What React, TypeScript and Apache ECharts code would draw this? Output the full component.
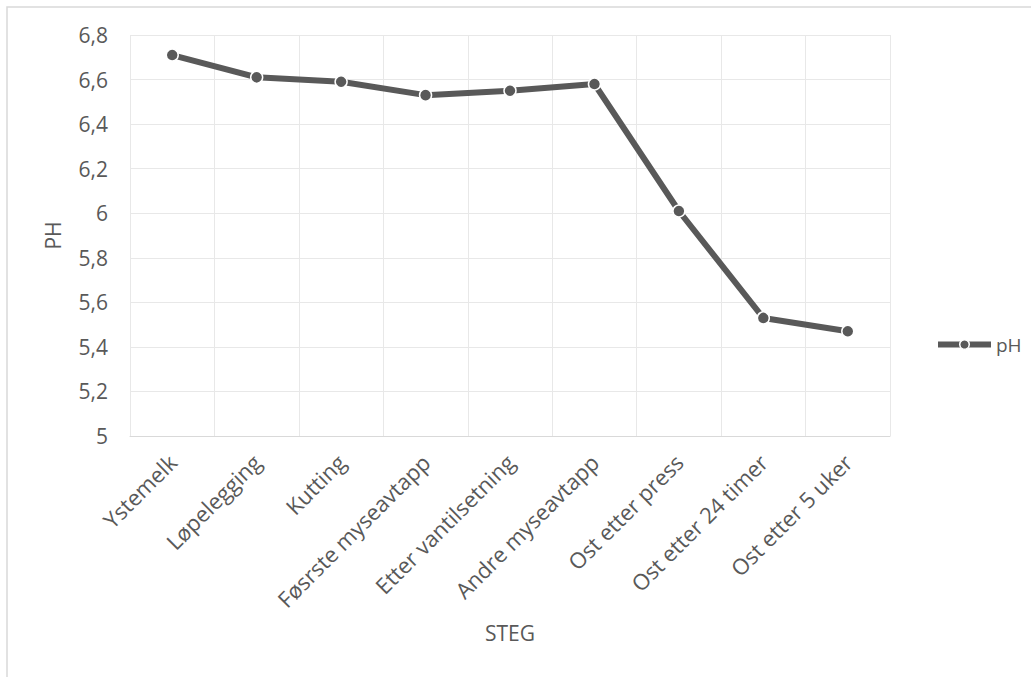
import React, { useEffect, useRef } from "react";
import * as echarts from "echarts";

// Cheese-making steps and the measured pH at each step
const steps = [
  "Ystemelk",
  "Løpelegging",
  "Kutting",
  "Føsrste myseavtapp",
  "Etter vantilsetning",
  "Andre myseavtapp",
  "Ost etter press",
  "Ost etter 24 timer",
  "Ost etter 5 uker",
];
const phValues = [6.71, 6.61, 6.59, 6.53, 6.55, 6.58, 6.01, 5.53, 5.47];

const yMin = 5;
const yMax = 6.8;
const yStep = 0.2;

const FONT = "'Open Sans', 'Noto Sans', sans-serif";
const TEXT = "#595959";
const SIZE = 21;

export default function App() {
  const ref = useRef<HTMLDivElement>(null);

  useEffect(() => {
    if (!ref.current) return;
    const chart = echarts.init(ref.current, null, { renderer: "svg" });
    chart.setOption({
      animation: false,
      backgroundColor: "#ffffff",
      textStyle: { fontFamily: FONT },
      graphic: [
        {
          type: "rect",
          shape: { x: 7, y: 7, width: 1100, height: 720 },
          style: { fill: "none", stroke: "#d9d9d9", lineWidth: 1.5 },
          silent: true,
        },
      ],
      grid: { left: 130, right: 141, top: 35, bottom: 241, containLabel: false },
      legend: {
        orient: "vertical",
        left: 930,
        top: 330,
        itemWidth: 53,
        itemHeight: 12,
        itemGap: 6,
        lineStyle: { width: 6, color: "#595959" },
        itemStyle: { color: "#595959", borderColor: "#ffffff", borderWidth: 1.5 },
        textStyle: { fontFamily: FONT, fontSize: 19, color: TEXT },
        data: ["pH"],
      },
      xAxis: {
        type: "category",
        data: steps,
        boundaryGap: true,
        name: "STEG",
        nameLocation: "middle",
        nameGap: 186,
        nameTextStyle: { fontFamily: FONT, fontSize: SIZE, color: TEXT },
        axisLine: { show: true, lineStyle: { color: "#d9d9d9", width: 1 } },
        axisTick: { show: false },
        axisLabel: {
          rotate: 45,
          interval: 0,
          margin: 22,
          fontFamily: FONT,
          fontSize: 22,
          color: TEXT,
        },
        splitLine: { show: true, lineStyle: { color: "#e8e8e8", width: 1 } },
      },
      yAxis: {
        type: "value",
        min: yMin,
        max: yMax,
        interval: yStep,
        name: "PH",
        nameLocation: "middle",
        nameGap: 67,
        nameRotate: 90,
        nameTextStyle: { fontFamily: FONT, fontSize: SIZE, color: TEXT },
        axisLine: { show: false },
        axisTick: { show: false },
        axisLabel: {
          margin: 22,
          fontFamily: FONT,
          fontSize: SIZE,
          color: TEXT,
          formatter: (v: number) => String(Math.round(v * 10) / 10).replace(".", ","),
        },
        splitLine: { show: true, lineStyle: { color: "#e8e8e8", width: 1 } },
      },
      series: [
        {
          name: "pH",
          type: "line",
          data: phValues,
          symbol: "circle",
          symbolSize: 12,
          lineStyle: { color: "#595959", width: 6 },
          itemStyle: { color: "#595959", borderColor: "#ffffff", borderWidth: 1.5 },
        },
      ],
    });
    return () => chart.dispose();
  }, []);

  return (
    <div
      ref={ref}
      style={{ position: "absolute", left: 0, top: 0, width: 1031, height: 677 }}
    />
  );
}
